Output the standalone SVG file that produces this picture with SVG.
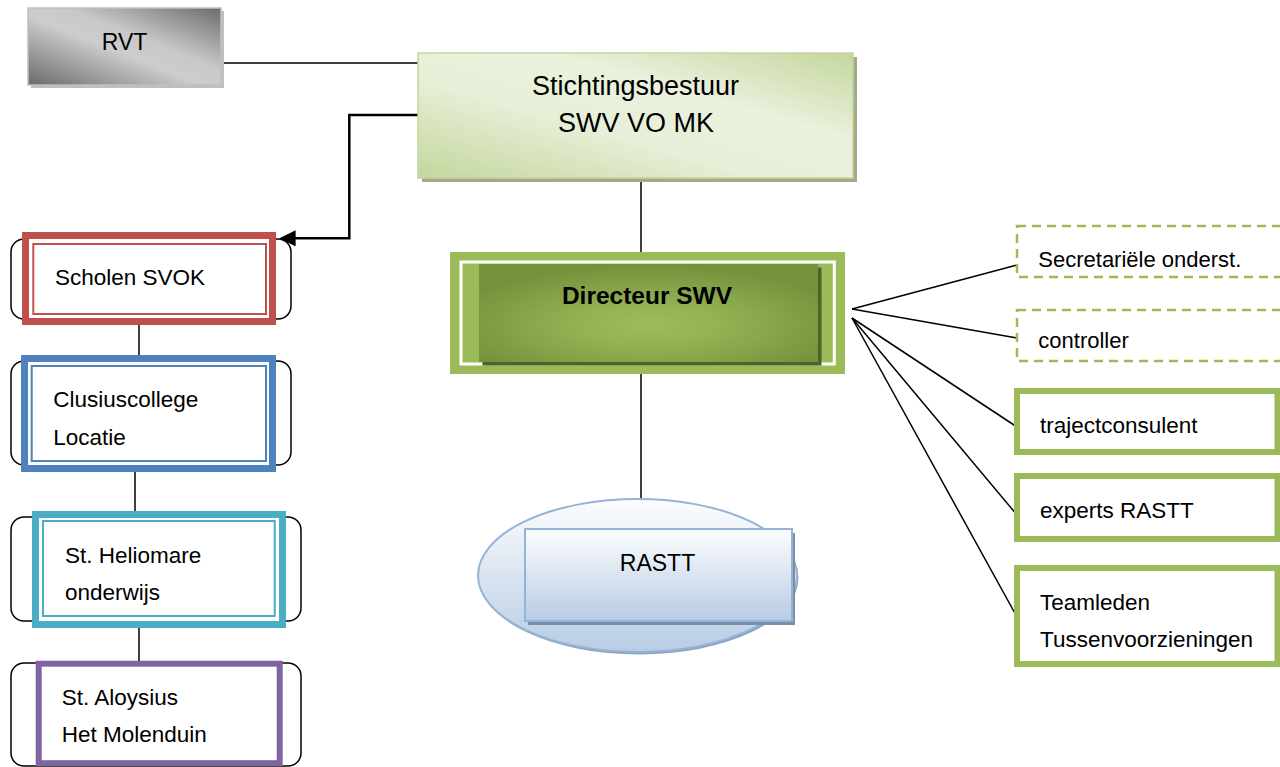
<svg xmlns="http://www.w3.org/2000/svg" width="1280" height="767" viewBox="0 0 1280 767">
<defs>
  <linearGradient id="gRVT" x1="0" y1="1" x2="1" y2="0">
    <stop offset="0" stop-color="#6a6a6a"/>
    <stop offset="0.45" stop-color="#cdcdcd"/>
    <stop offset="0.6" stop-color="#c8c8c8"/>
    <stop offset="1" stop-color="#6c6c6c"/>
  </linearGradient>
  <linearGradient id="gStich" x1="0" y1="1" x2="1" y2="0">
    <stop offset="0" stop-color="#c4d69d"/>
    <stop offset="0.4" stop-color="#e7efd8"/>
    <stop offset="0.65" stop-color="#eaf1dd"/>
    <stop offset="1" stop-color="#c4d69d"/>
  </linearGradient>
  <radialGradient id="gDir" cx="0.5" cy="0.62" r="0.6">
    <stop offset="0" stop-color="#9cbc5a"/>
    <stop offset="0.35" stop-color="#93b253"/>
    <stop offset="1" stop-color="#76923c"/>
  </radialGradient>
  <linearGradient id="gBlue" x1="0" y1="0" x2="0" y2="1">
    <stop offset="0" stop-color="#fcfdfe"/>
    <stop offset="1" stop-color="#b8cce4"/>
  </linearGradient>
  <marker id="arr" viewBox="0 0 10 10" refX="9" refY="5" markerWidth="6.5" markerHeight="6.5" markerUnits="strokeWidth" orient="auto">
    <path d="M0,0 L10,5 L0,10 z" fill="#000"/>
  </marker>
  <style>
    .t{font-family:"Liberation Sans",Arial,sans-serif;fill:#000}
    .c{text-anchor:middle}
    .br{fill:none;stroke:#000;stroke-width:1.5}
    .ln{fill:none;stroke:#000;stroke-width:1.5}
    .dash{fill:#fff;stroke:#9bbb59;stroke-width:2.5;stroke-dasharray:9 6}
    .solid{fill:#fff;stroke:#9bbb59;stroke-width:6}
  </style>
</defs>
<rect width="1280" height="767" fill="#fff"/>

<!-- connectors -->
<g id="connectors">
  <line class="ln" x1="221" y1="63" x2="418" y2="63"/>
  <polyline points="418,115 349.3,115 349.3,238.3 281,238.3" fill="none" stroke="#000" stroke-width="2.5" marker-end="url(#arr)"/>
  <line class="ln" x1="641" y1="178" x2="641" y2="252"/>
  <line class="ln" x1="641" y1="374" x2="641" y2="499"/>
  <line class="ln" x1="139" y1="325" x2="139" y2="355"/>
  <line class="ln" x1="135" y1="472" x2="135" y2="511"/>
  <line class="ln" x1="139" y1="628" x2="139" y2="661"/>
  <line class="ln" x1="852" y1="309" x2="1017" y2="265"/>
  <line class="ln" x1="852" y1="309" x2="1017" y2="338"/>
  <line class="ln" x1="852" y1="318" x2="1017" y2="427"/>
  <line class="ln" x1="852" y1="318" x2="1017" y2="515"/>
  <line class="ln" x1="852" y1="318" x2="1017" y2="617"/>
</g>

<g id="rvt">
  <rect x="31" y="11" width="193" height="77" fill="#bfbfbf"/>
  <rect x="28" y="8" width="193" height="77" fill="url(#gRVT)" stroke="#c0c0c0" stroke-width="1.5"/>
  <text class="t c" x="124.5" y="50" font-size="23">RVT</text>
</g>

<g id="stichtingsbestuur">
  <rect x="422" y="57" width="435" height="125" fill="#a3a98a"/>
  <rect x="418" y="53" width="435" height="125" fill="url(#gStich)" stroke="#c3d69b" stroke-width="1.5"/>
  <text class="t c" x="635.5" y="95" font-size="27">Stichtingsbestuur</text>
  <text class="t c" x="636" y="131.5" font-size="27">SWV VO MK</text>
</g>

<g id="directeur">
  <rect x="450" y="252" width="395" height="122" fill="#9bbb59"/>
  <rect x="461" y="262" width="373.3" height="102" fill="#9bbb59" stroke="#fff" stroke-width="3"/>
  <rect x="482.5" y="267.5" width="339" height="98" fill="#4f6228"/>
  <rect x="479" y="264" width="339" height="98" fill="url(#gDir)"/>
  <text class="t c" x="647" y="304" font-size="24.5" font-weight="bold">Directeur SWV</text>
</g>

<g id="rastt">
  <ellipse cx="639" cy="578" rx="159.5" ry="76.5" fill="#8ea5c1"/>
  <ellipse cx="637.5" cy="575.5" rx="159.5" ry="76.5" fill="url(#gBlue)" stroke="#95b3d7" stroke-width="2"/>
  <rect x="528" y="533" width="267" height="92" fill="#7b8ea8"/>
  <rect x="525" y="529" width="267" height="92" fill="url(#gBlue)" stroke="#95b3d7" stroke-width="2"/>
  <text class="t c" x="657.5" y="570.7" font-size="23">RASTT</text>
</g>

<g id="scholen-svok">
  <rect class="br" x="11" y="239" width="280" height="80" rx="13"/>
  <rect x="25.5" y="235.5" width="247" height="86" fill="#fff" stroke="#c0504d" stroke-width="7"/>
  <rect x="33.3" y="244" width="232.7" height="70" fill="none" stroke="#c0504d" stroke-width="2"/>
  <text class="t" x="55" y="285" font-size="22.5">Scholen SVOK</text>
</g>

<g id="clusiuscollege">
  <rect class="br" x="11" y="361" width="280" height="104" rx="13"/>
  <rect x="24.5" y="358.5" width="248" height="110" fill="#fff" stroke="#4f81bd" stroke-width="7"/>
  <rect x="31.7" y="366" width="234.3" height="95" fill="none" stroke="#4f81bd" stroke-width="2"/>
  <text class="t" x="53.3" y="406.7" font-size="22.5">Clusiuscollege</text>
  <text class="t" x="53.3" y="445" font-size="22.5">Locatie</text>
</g>

<g id="heliomare">
  <rect class="br" x="11" y="517" width="290" height="104" rx="13"/>
  <rect x="35.5" y="514.5" width="247" height="110" fill="#fff" stroke="#4bacc6" stroke-width="7"/>
  <rect x="43" y="521" width="231.7" height="95" fill="none" stroke="#4bacc6" stroke-width="2"/>
  <text class="t" x="65" y="563.3" font-size="22.5">St. Heliomare</text>
  <text class="t" x="65" y="600" font-size="22.5">onderwijs</text>
</g>

<g id="aloysius">
  <rect class="br" x="11" y="663" width="290" height="103" rx="13"/>
  <rect x="38.7" y="663.7" width="241" height="99.5" fill="#fff" stroke="#8064a2" stroke-width="6"/>
  <text class="t" x="61.7" y="705" font-size="22.5">St. Aloysius</text>
  <text class="t" x="61.7" y="741.7" font-size="22.5">Het Molenduin</text>
</g>

<g id="secretariele">
  <rect class="dash" x="1017" y="226" width="280" height="51"/>
  <text class="t" x="1038.3" y="266.7" font-size="22">Secretariële onderst.</text>
</g>

<g id="controller">
  <rect class="dash" x="1017" y="310" width="280" height="51"/>
  <text class="t" x="1038.3" y="348.3" font-size="22">controller</text>
</g>

<g id="trajectconsulent">
  <rect class="solid" x="1017" y="391" width="260.5" height="61"/>
  <text class="t" x="1040" y="433" font-size="22.5">trajectconsulent</text>
</g>

<g id="experts-rastt">
  <rect class="solid" x="1017" y="476" width="260.5" height="63"/>
  <text class="t" x="1040" y="517.7" font-size="22.5">experts RASTT</text>
</g>

<g id="teamleden">
  <rect class="solid" x="1017" y="568" width="260.5" height="96"/>
  <text class="t" x="1040" y="610" font-size="22.5">Teamleden</text>
  <text class="t" x="1040" y="646.7" font-size="22.5">Tussenvoorzieningen</text>
</g>
</svg>
